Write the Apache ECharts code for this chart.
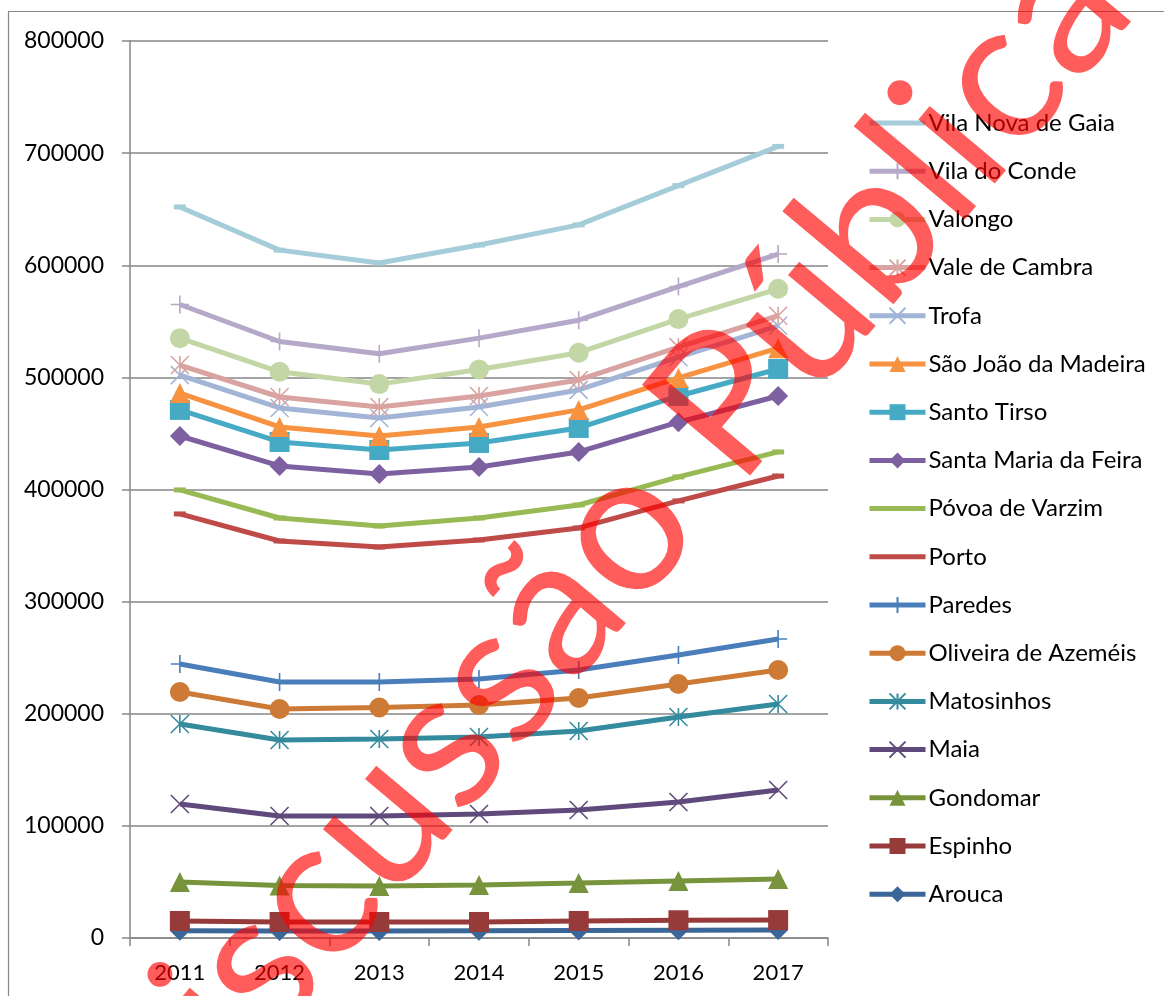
<!DOCTYPE html>
<html>
<head>
<meta charset="utf-8">
<script src="https://cdn.jsdelivr.net/npm/echarts@6/dist/echarts.min.js"></script>
<style>
html,body{margin:0;padding:0;background:#fff;}
#chart{width:1164px;height:996px;}
</style>
</head>
<body>
<div id="chart"></div>
<script>
// ---- data ----
const years = ['2011','2012','2013','2014','2015','2016','2017'];
const yTicks = [0,100000,200000,300000,400000,500000,600000,700000,800000];

const seriesNames = ['Arouca','Espinho','Gondomar','Maia','Matosinhos','Oliveira de Azeméis','Paredes','Porto','Póvoa de Varzim','Santa Maria da Feira','Santo Tirso','São João da Madeira','Trofa','Vale de Cambra','Valongo','Vila do Conde','Vila Nova de Gaia'];

const arouca      = [6500, 6300, 6300, 6500, 6700, 6900, 7100];
const espinho     = [15200, 14300, 14300, 14300, 15200, 15800, 16000];
const gondomar    = [50000, 46800, 46400, 47300, 49000, 50800, 52600];
const maia        = [119500, 108800, 108800, 110600, 114200, 121300, 132000];
const matosinhos  = [190900, 176600, 177500, 179300, 184600, 197100, 208700];
const oliveira    = [219400, 204200, 205600, 207800, 214000, 226500, 239000];
const paredes     = [244400, 228300, 228300, 231000, 239000, 252400, 266700];
const porto       = [378200, 354100, 348700, 355000, 365700, 389800, 412000];
const povoa       = [399600, 374600, 367500, 374600, 386200, 411200, 433500];
const smFeira     = [447700, 421000, 413800, 420000, 433500, 460000, 483400];
const santoTirso  = [471000, 442400, 435200, 441500, 454900, 483400, 507500];
const sjMadeira   = [486000, 455800, 447700, 455800, 471000, 499500, 526000];
const trofa       = [502000, 472700, 463800, 473600, 488800, 518000, 546000];
const valeCambra  = [511000, 482500, 473600, 483400, 497700, 527000, 555000];
const valongo     = [535000, 505000, 494000, 507000, 522000, 552000, 579000];
const vilaConde   = [565000, 532000, 521000, 535000, 551000, 581000, 610000];
const vilaNovaGaia= [652000, 613500, 602000, 618000, 636000, 671000, 706000];

const seriesValues = [arouca, espinho, gondomar, maia, matosinhos, oliveira, paredes, porto, povoa, smFeira, santoTirso, sjMadeira, trofa, valeCambra, valongo, vilaConde, vilaNovaGaia];

// ---- styles ----
const colors = ['#3B6698','#963B39','#77933C','#604A7B','#358B9E','#CC7A36','#4A7EBB','#BE4B48','#98B954','#7D60A0','#46AAC5','#F69240','#A3B5D6','#D8A3A1','#C3D6A6','#B5A8C8','#A5CDD9'];
const P_PLUS = 'path://M5,0 L5,10 M0,5 L10,5';
const P_X = 'path://M0,0 L10,10 M10,0 L0,10';
const P_STAR = 'path://M0,0 L10,10 M10,0 L0,10 M5,0 L5,10';
const DASH = 'rect';
const symbols = ['diamond','rect','triangle',P_X,P_STAR,'circle',P_PLUS,DASH,DASH,'diamond','rect','triangle',P_X,P_STAR,'circle',P_PLUS,DASH];
const symbolSizes = [20,20,20,18,18,20,18,[12,5],[12,5],20,20,20,18,18,20,18,[12,5]];
const noMarkerLegend = ['Porto','Póvoa de Varzim','Vila Nova de Gaia'];

const series = seriesNames.map((name, i) => ({
  name: name,
  type: 'line',
  data: seriesValues[i],
  symbol: symbols[i],
  symbolSize: symbolSizes[i],
  showAllSymbol: true,
  lineStyle: { width: 5, color: colors[i] },
  itemStyle: { color: colors[i], borderColor: colors[i], borderWidth: symbols[i].indexOf('path://') === 0 ? 1.6 : 0 },
  emphasis: { disabled: true },
  z: 2 + i
}));

const legendData = seriesNames.slice().reverse().map(n =>
  noMarkerLegend.indexOf(n) >= 0 ? { name: n, itemStyle: { opacity: 0 } } : { name: n }
);

const FONT = 'Lato';
const chart = echarts.init(document.getElementById('chart'));
chart.setOption({
  animation: false,
  backgroundColor: '#fff',
  color: colors,
  grid: { left: 130, right: 336, top: 41, bottom: 58, containLabel: false },
  xAxis: {
    type: 'category',
    data: years,
    boundaryGap: true,
    axisLine: { show: true, lineStyle: { color: '#868686', width: 1.5 } },
    axisTick: { show: true, length: 8, alignWithLabel: false, lineStyle: { color: '#868686', width: 1.5 } },
    axisLabel: { color: '#000', fontFamily: FONT, fontSize: 22, margin: 24 },
    splitLine: { show: false }
  },
  yAxis: {
    type: 'value',
    min: yTicks[0],
    max: yTicks[yTicks.length - 1],
    interval: yTicks[1] - yTicks[0],
    axisLine: { show: true, lineStyle: { color: '#868686', width: 1.5 } },
    axisTick: { show: true, length: 8, lineStyle: { color: '#868686', width: 1.5 } },
    axisLabel: { color: '#000', fontFamily: FONT, fontSize: 23, margin: 26, formatter: v => String(v) },
    splitLine: { show: true, lineStyle: { color: '#868686', width: 1.5 } }
  },
  legend: {
    orient: 'vertical',
    left: 867,
    top: 110,
    padding: 0,
    itemWidth: 56,
    itemHeight: 20,
    itemGap: 22.2,
    selectedMode: false,
    data: legendData,
    lineStyle: { width: 5 },
    textStyle: { color: '#000', fontFamily: FONT, fontSize: 24, lineHeight: 26, padding: [0,0,0,-2] }
  },
  series: series,
  graphic: [
    {
      type: 'rect', z: 0, silent: true,
      shape: { x: 8.5, y: 11.5, width: 1200, height: 1000 },
      style: { fill: 'none', stroke: '#868686', lineWidth: 1.2 }
    },
    {
      type: 'text', z: 200, silent: true,
      x: 596, y: 560, rotation: 50 * Math.PI / 180,
      style: {
        text: 'Discussão Pública',
        fontFamily: FONT, fontSize: 197,
        fill: 'rgba(255,0,0,0.64)',
        align: 'center', verticalAlign: 'middle'
      }
    }
  ]
});
</script>
</body>
</html>
